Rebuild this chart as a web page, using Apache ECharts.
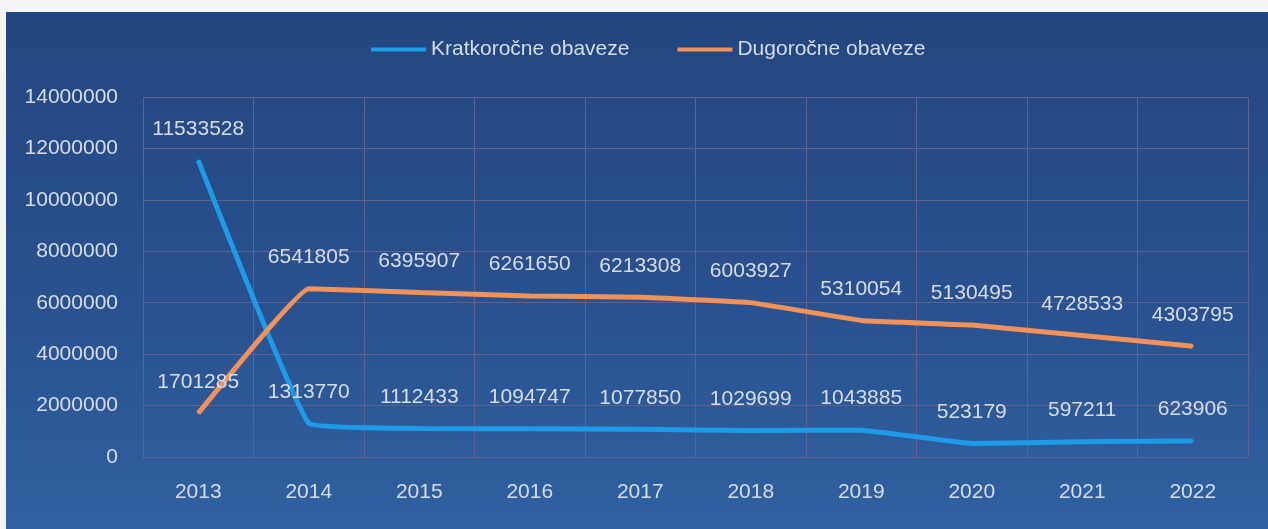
<!DOCTYPE html>
<html>
<head>
<meta charset="utf-8">
<script src="https://cdn.jsdelivr.net/npm/echarts@6/dist/echarts.min.js"></script>
<style>
  html, body { margin: 0; padding: 0; background: #f4f4f4; }
  #chart { position: absolute; left: 6px; top: 12px; width: 1262px; height: 517px; }
</style>
</head>
<body>
<div id="chart"></div>
<script>
var years = ['2013', '2014', '2015', '2016', '2017', '2018', '2019', '2020', '2021', '2022'];
var kratkorocne = [11533528, 1313770, 1112433, 1094747, 1077850, 1029699, 1043885, 523179, 597211, 623906];
var dugorocne = [1701285, 6541805, 6395907, 6261650, 6213308, 6003927, 5310054, 5130495, 4728533, 4303795];

var txt = '#d6ddea';
var gridCol = '#5e6290';

var chart = echarts.init(document.getElementById('chart'));
chart.setOption({
  backgroundColor: {
    type: 'linear', x: 0, y: 0, x2: 0, y2: 1,
    colorStops: [{ offset: 0, color: '#23467e' }, { offset: 0.6, color: '#2a5290' }, { offset: 1, color: '#3061a0' }]
  },
  textStyle: { fontFamily: 'Liberation Sans' },
  legend: {
    top: 22,
    left: 360,
    icon: 'rect',
    itemWidth: 55,
    itemHeight: 4,
    itemGap: 48,
    textStyle: { color: txt, fontSize: 21 },
    data: ['Kratkoročne obaveze', 'Dugoročne obaveze']
  },
  grid: { left: 137, right: 20, top: 85, bottom: 72 },
  xAxis: {
    type: 'category',
    data: years,
    boundaryGap: true,
    axisLine: { lineStyle: { color: gridCol } },
    axisTick: { show: false },
    axisLabel: { color: txt, fontSize: 21, margin: 25 },
    splitLine: { show: true, lineStyle: { color: gridCol, width: 1 } }
  },
  yAxis: {
    type: 'value',
    min: 0,
    max: 14000000,
    interval: 2000000,
    axisLine: { show: false },
    axisTick: { show: false },
    axisLabel: { color: txt, fontSize: 21, margin: 25, formatter: function (v) { return String(v); } },
    splitLine: { lineStyle: { color: gridCol, width: 1 } }
  },
  series: [
    {
      name: 'Kratkoročne obaveze',
      type: 'line',
      data: kratkorocne,
      smooth: 0.08,
      symbol: 'circle',
      symbolSize: 2,
      color: '#1e9be6',
      lineStyle: { width: 5 },
      label: { show: true, position: 'top', distance: 20, color: txt, fontSize: 21 }
    },
    {
      name: 'Dugoročne obaveze',
      type: 'line',
      data: dugorocne,
      smooth: 0.08,
      symbol: 'circle',
      symbolSize: 2,
      color: '#f0925a',
      lineStyle: { width: 5 },
      label: { show: true, position: 'top', distance: 20, color: txt, fontSize: 21 }
    }
  ]
});
</script>
</body>
</html>
